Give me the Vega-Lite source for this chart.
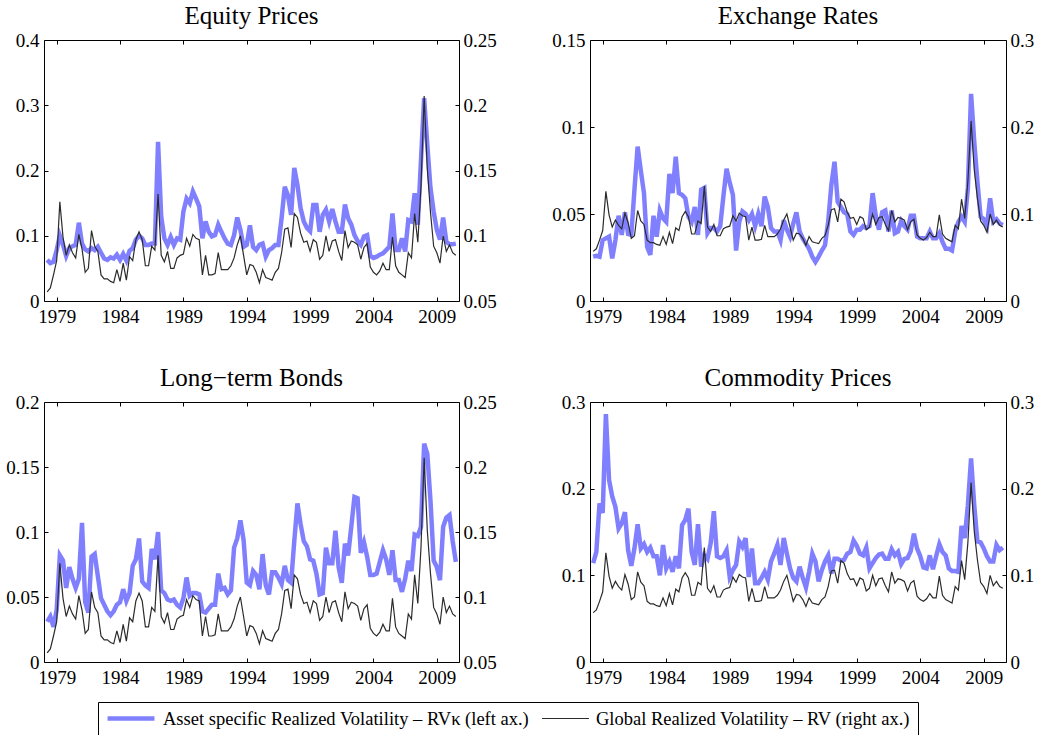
{
  "$schema": "https://vega.github.io/schema/vega-lite/v6.json",
  "padding": {"left": 5, "top": 3, "right": 0, "bottom": 0},
  "background": "white",
  "config": {
    "font": "Liberation Serif",
    "view": {"stroke": "black", "strokeWidth": 1},
    "axis": {"grid": false, "domain": false, "ticks": true, "tickSize": -4, "tickColor": "black", "tickWidth": 1, "labelFont": "Liberation Serif", "labelFontSize": 19, "labelColor": "black", "labelFlush": false, "labelOverlap": false, "title": null},
    "title": {"font": "Liberation Serif", "fontSize": 25, "fontWeight": "normal", "color": "black", "frame": "group", "offset": 2},
    "legend": {"orient": "none", "legendX": 54, "legendY": 662, "direction": "horizontal", "title": null, "labelFont": "Liberation Serif", "labelFontSize": 18.5, "labelColor": "black", "labelLimit": 0, "symbolType": "stroke", "symbolSize": 2200, "clipHeight": 19, "strokeColor": "black", "fillColor": "white", "padding": 7, "columnPadding": 11, "labelOffset": 6}
  },
  "datasets": {
    "rv": [
      {"t":1978.25,"eq":0.063,"fx":0.0255,"bd":0.031,"cm":0.114,"g":0.057},
      {"t":1978.5,"eq":0.058,"fx":0.026,"bd":0.035,"cm":0.127,"g":0.060},
      {"t":1978.75,"eq":0.060,"fx":0.0255,"bd":0.027,"cm":0.183,"g":0.070},
      {"t":1979,"eq":0.078,"fx":0.035,"bd":0.040,"cm":0.172,"g":0.081},
      {"t":1979.25,"eq":0.100,"fx":0.036,"bd":0.082,"cm":0.286,"g":0.126},
      {"t":1979.5,"eq":0.086,"fx":0.037,"bd":0.078,"cm":0.210,"g":0.099},
      {"t":1979.75,"eq":0.069,"fx":0.0245,"bd":0.057,"cm":0.191,"g":0.085},
      {"t":1980,"eq":0.081,"fx":0.035,"bd":0.073,"cm":0.179,"g":0.093},
      {"t":1980.25,"eq":0.084,"fx":0.049,"bd":0.064,"cm":0.154,"g":0.087},
      {"t":1980.5,"eq":0.086,"fx":0.038,"bd":0.057,"cm":0.160,"g":0.083},
      {"t":1980.75,"eq":0.120,"fx":0.051,"bd":0.064,"cm":0.173,"g":0.101},
      {"t":1981,"eq":0.088,"fx":0.0385,"bd":0.107,"cm":0.129,"g":0.090},
      {"t":1981.25,"eq":0.079,"fx":0.038,"bd":0.046,"cm":0.111,"g":0.072},
      {"t":1981.5,"eq":0.076,"fx":0.064,"bd":0.038,"cm":0.131,"g":0.075},
      {"t":1981.75,"eq":0.081,"fx":0.0887,"bd":0.081,"cm":0.159,"g":0.104},
      {"t":1982,"eq":0.078,"fx":0.075,"bd":0.083,"cm":0.131,"g":0.092},
      {"t":1982.25,"eq":0.083,"fx":0.062,"bd":0.066,"cm":0.136,"g":0.088},
      {"t":1982.5,"eq":0.074,"fx":0.031,"bd":0.049,"cm":0.127,"g":0.070},
      {"t":1982.75,"eq":0.065,"fx":0.0265,"bd":0.044,"cm":0.132,"g":0.067},
      {"t":1983,"eq":0.063,"fx":0.049,"bd":0.039,"cm":0.122,"g":0.067},
      {"t":1983.25,"eq":0.067,"fx":0.037,"bd":0.036,"cm":0.122,"g":0.065},
      {"t":1983.5,"eq":0.065,"fx":0.052,"bd":0.039,"cm":0.100,"g":0.064},
      {"t":1983.75,"eq":0.071,"fx":0.0475,"bd":0.044,"cm":0.135,"g":0.074},
      {"t":1984,"eq":0.063,"fx":0.0455,"bd":0.046,"cm":0.108,"g":0.065},
      {"t":1984.25,"eq":0.072,"fx":0.073,"bd":0.056,"cm":0.116,"g":0.079},
      {"t":1984.5,"eq":0.062,"fx":0.062,"bd":0.047,"cm":0.104,"g":0.066},
      {"t":1984.75,"eq":0.077,"fx":0.083,"bd":0.053,"cm":0.122,"g":0.084},
      {"t":1985,"eq":0.081,"fx":0.062,"bd":0.074,"cm":0.108,"g":0.081},
      {"t":1985.25,"eq":0.094,"fx":0.061,"bd":0.079,"cm":0.158,"g":0.097},
      {"t":1985.5,"eq":0.100,"fx":0.059,"bd":0.095,"cm":0.164,"g":0.103},
      {"t":1985.75,"eq":0.096,"fx":0.0485,"bd":0.062,"cm":0.177,"g":0.097},
      {"t":1986,"eq":0.086,"fx":0.0455,"bd":0.059,"cm":0.127,"g":0.077},
      {"t":1986.25,"eq":0.086,"fx":0.054,"bd":0.057,"cm":0.112,"g":0.077},
      {"t":1986.5,"eq":0.088,"fx":0.038,"bd":0.087,"cm":0.159,"g":0.092},
      {"t":1986.75,"eq":0.088,"fx":0.064,"bd":0.079,"cm":0.110,"g":0.089},
      {"t":1987,"eq":0.244,"fx":0.065,"bd":0.100,"cm":0.123,"g":0.132},
      {"t":1987.25,"eq":0.129,"fx":0.039,"bd":0.055,"cm":0.119,"g":0.085},
      {"t":1987.5,"eq":0.096,"fx":0.042,"bd":0.053,"cm":0.137,"g":0.080},
      {"t":1987.75,"eq":0.086,"fx":0.042,"bd":0.048,"cm":0.174,"g":0.088},
      {"t":1988,"eq":0.098,"fx":0.040,"bd":0.047,"cm":0.122,"g":0.075},
      {"t":1988.25,"eq":0.086,"fx":0.043,"bd":0.048,"cm":0.120,"g":0.075},
      {"t":1988.5,"eq":0.096,"fx":0.060,"bd":0.044,"cm":0.122,"g":0.083},
      {"t":1988.75,"eq":0.094,"fx":0.076,"bd":0.042,"cm":0.129,"g":0.085},
      {"t":1989,"eq":0.137,"fx":0.068,"bd":0.049,"cm":0.098,"g":0.086},
      {"t":1989.25,"eq":0.157,"fx":0.061,"bd":0.065,"cm":0.106,"g":0.098},
      {"t":1989.5,"eq":0.150,"fx":0.029,"bd":0.051,"cm":0.112,"g":0.092},
      {"t":1989.75,"eq":0.168,"fx":0.0455,"bd":0.053,"cm":0.139,"g":0.101},
      {"t":1990,"eq":0.157,"fx":0.0515,"bd":0.053,"cm":0.133,"g":0.098},
      {"t":1990.25,"eq":0.145,"fx":0.050,"bd":0.052,"cm":0.143,"g":0.097},
      {"t":1990.5,"eq":0.096,"fx":0.0465,"bd":0.039,"cm":0.098,"g":0.070},
      {"t":1990.75,"eq":0.122,"fx":0.050,"bd":0.038,"cm":0.131,"g":0.085},
      {"t":1991,"eq":0.106,"fx":0.043,"bd":0.041,"cm":0.091,"g":0.070},
      {"t":1991.25,"eq":0.099,"fx":0.050,"bd":0.044,"cm":0.091,"g":0.070},
      {"t":1991.5,"eq":0.101,"fx":0.043,"bd":0.044,"cm":0.097,"g":0.071},
      {"t":1991.75,"eq":0.117,"fx":0.060,"bd":0.068,"cm":0.104,"g":0.087},
      {"t":1992,"eq":0.106,"fx":0.054,"bd":0.056,"cm":0.095,"g":0.074},
      {"t":1992.25,"eq":0.096,"fx":0.042,"bd":0.057,"cm":0.116,"g":0.074},
      {"t":1992.5,"eq":0.088,"fx":0.040,"bd":0.052,"cm":0.125,"g":0.074},
      {"t":1992.75,"eq":0.086,"fx":0.040,"bd":0.055,"cm":0.135,"g":0.077},
      {"t":1993,"eq":0.101,"fx":0.035,"bd":0.088,"cm":0.112,"g":0.083},
      {"t":1993.25,"eq":0.128,"fx":0.0465,"bd":0.095,"cm":0.143,"g":0.093},
      {"t":1993.5,"eq":0.109,"fx":0.041,"bd":0.109,"cm":0.125,"g":0.100},
      {"t":1993.75,"eq":0.083,"fx":0.037,"bd":0.094,"cm":0.108,"g":0.085},
      {"t":1994,"eq":0.086,"fx":0.0445,"bd":0.061,"cm":0.097,"g":0.070},
      {"t":1994.25,"eq":0.116,"fx":0.051,"bd":0.059,"cm":0.093,"g":0.078},
      {"t":1994.5,"eq":0.083,"fx":0.040,"bd":0.070,"cm":0.110,"g":0.077},
      {"t":1994.75,"eq":0.078,"fx":0.036,"bd":0.067,"cm":0.097,"g":0.072},
      {"t":1995,"eq":0.086,"fx":0.033,"bd":0.056,"cm":0.086,"g":0.064},
      {"t":1995.25,"eq":0.088,"fx":0.030,"bd":0.083,"cm":0.104,"g":0.074},
      {"t":1995.5,"eq":0.068,"fx":0.0255,"bd":0.059,"cm":0.125,"g":0.068},
      {"t":1995.75,"eq":0.078,"fx":0.0225,"bd":0.052,"cm":0.116,"g":0.067},
      {"t":1996,"eq":0.081,"fx":0.0255,"bd":0.069,"cm":0.093,"g":0.066},
      {"t":1996.25,"eq":0.086,"fx":0.029,"bd":0.069,"cm":0.106,"g":0.072},
      {"t":1996.5,"eq":0.086,"fx":0.032,"bd":0.065,"cm":0.116,"g":0.075},
      {"t":1996.75,"eq":0.127,"fx":0.0455,"bd":0.060,"cm":0.123,"g":0.087},
      {"t":1997,"eq":0.175,"fx":0.0667,"bd":0.074,"cm":0.102,"g":0.105},
      {"t":1997.25,"eq":0.162,"fx":0.080,"bd":0.063,"cm":0.119,"g":0.106},
      {"t":1997.5,"eq":0.132,"fx":0.057,"bd":0.061,"cm":0.119,"g":0.091},
      {"t":1997.75,"eq":0.204,"fx":0.054,"bd":0.093,"cm":0.117,"g":0.117},
      {"t":1998,"eq":0.178,"fx":0.051,"bd":0.122,"cm":0.118,"g":0.114},
      {"t":1998.25,"eq":0.142,"fx":0.050,"bd":0.106,"cm":0.125,"g":0.102},
      {"t":1998.5,"eq":0.122,"fx":0.040,"bd":0.093,"cm":0.127,"g":0.095},
      {"t":1998.75,"eq":0.112,"fx":0.038,"bd":0.089,"cm":0.140,"g":0.096},
      {"t":1999,"eq":0.107,"fx":0.041,"bd":0.079,"cm":0.134,"g":0.088},
      {"t":1999.25,"eq":0.147,"fx":0.041,"bd":0.078,"cm":0.125,"g":0.097},
      {"t":1999.5,"eq":0.147,"fx":0.043,"bd":0.068,"cm":0.123,"g":0.095},
      {"t":1999.75,"eq":0.106,"fx":0.042,"bd":0.052,"cm":0.132,"g":0.082},
      {"t":2000,"eq":0.132,"fx":0.043,"bd":0.053,"cm":0.108,"g":0.085},
      {"t":2000.25,"eq":0.140,"fx":0.062,"bd":0.088,"cm":0.114,"g":0.100},
      {"t":2000.5,"eq":0.122,"fx":0.049,"bd":0.076,"cm":0.120,"g":0.088},
      {"t":2000.75,"eq":0.141,"fx":0.041,"bd":0.076,"cm":0.124,"g":0.096},
      {"t":2001,"eq":0.122,"fx":0.051,"bd":0.101,"cm":0.125,"g":0.097},
      {"t":2001.25,"eq":0.106,"fx":0.052,"bd":0.073,"cm":0.119,"g":0.088},
      {"t":2001.5,"eq":0.106,"fx":0.040,"bd":0.061,"cm":0.119,"g":0.081},
      {"t":2001.75,"eq":0.148,"fx":0.052,"bd":0.091,"cm":0.130,"g":0.104},
      {"t":2002,"eq":0.127,"fx":0.039,"bd":0.082,"cm":0.123,"g":0.091},
      {"t":2002.25,"eq":0.117,"fx":0.040,"bd":0.104,"cm":0.127,"g":0.096},
      {"t":2002.5,"eq":0.101,"fx":0.046,"bd":0.127,"cm":0.113,"g":0.095},
      {"t":2002.75,"eq":0.092,"fx":0.043,"bd":0.126,"cm":0.119,"g":0.093},
      {"t":2003,"eq":0.086,"fx":0.041,"bd":0.084,"cm":0.120,"g":0.082},
      {"t":2003.25,"eq":0.099,"fx":0.049,"bd":0.092,"cm":0.128,"g":0.091},
      {"t":2003.5,"eq":0.101,"fx":0.049,"bd":0.081,"cm":0.148,"g":0.094},
      {"t":2003.75,"eq":0.069,"fx":0.037,"bd":0.067,"cm":0.131,"g":0.076},
      {"t":2004,"eq":0.066,"fx":0.036,"bd":0.067,"cm":0.122,"g":0.072},
      {"t":2004.25,"eq":0.068,"fx":0.036,"bd":0.068,"cm":0.109,"g":0.070},
      {"t":2004.5,"eq":0.071,"fx":0.036,"bd":0.077,"cm":0.108,"g":0.073},
      {"t":2004.75,"eq":0.073,"fx":0.040,"bd":0.086,"cm":0.123,"g":0.079},
      {"t":2005,"eq":0.078,"fx":0.036,"bd":0.079,"cm":0.107,"g":0.074},
      {"t":2005.25,"eq":0.083,"fx":0.036,"bd":0.067,"cm":0.122,"g":0.074},
      {"t":2005.5,"eq":0.134,"fx":0.039,"bd":0.086,"cm":0.136,"g":0.099},
      {"t":2005.75,"eq":0.078,"fx":0.034,"bd":0.063,"cm":0.127,"g":0.077},
      {"t":2006,"eq":0.078,"fx":0.030,"bd":0.063,"cm":0.123,"g":0.072},
      {"t":2006.25,"eq":0.096,"fx":0.030,"bd":0.054,"cm":0.108,"g":0.070},
      {"t":2006.5,"eq":0.076,"fx":0.029,"bd":0.064,"cm":0.105,"g":0.068},
      {"t":2006.75,"eq":0.124,"fx":0.040,"bd":0.078,"cm":0.105,"g":0.087},
      {"t":2007,"eq":0.122,"fx":0.0455,"bd":0.070,"cm":0.104,"g":0.083},
      {"t":2007.25,"eq":0.165,"fx":0.0485,"bd":0.098,"cm":0.157,"g":0.117},
      {"t":2007.5,"eq":0.117,"fx":0.0455,"bd":0.097,"cm":0.143,"g":0.095},
      {"t":2007.75,"eq":0.216,"fx":0.065,"bd":0.104,"cm":0.181,"g":0.138},
      {"t":2008,"eq":0.311,"fx":0.119,"bd":0.168,"cm":0.235,"g":0.207},
      {"t":2008.25,"eq":0.239,"fx":0.0916,"bd":0.160,"cm":0.181,"g":0.151},
      {"t":2008.5,"eq":0.173,"fx":0.0686,"bd":0.124,"cm":0.139,"g":0.118},
      {"t":2008.75,"eq":0.137,"fx":0.0485,"bd":0.078,"cm":0.138,"g":0.092},
      {"t":2009,"eq":0.109,"fx":0.047,"bd":0.073,"cm":0.131,"g":0.087},
      {"t":2009.25,"eq":0.094,"fx":0.043,"bd":0.063,"cm":0.122,"g":0.079},
      {"t":2009.5,"eq":0.128,"fx":0.059,"bd":0.104,"cm":0.116,"g":0.100},
      {"t":2009.75,"eq":0.091,"fx":0.0455,"bd":0.111,"cm":0.116,"g":0.088},
      {"t":2010,"eq":0.087,"fx":0.047,"bd":0.113,"cm":0.135,"g":0.093},
      {"t":2010.25,"eq":0.087,"fx":0.0446,"bd":0.093,"cm":0.129,"g":0.087},
      {"t":2010.5,"eq":0.088,"fx":0.0437,"bd":0.077,"cm":0.132,"g":0.085}
    ]
  },
  "columns": 2,
  "bounds": "flush",
  "spacing": {"row": 101, "column": 131},
  "resolve": {"scale": {"color": "shared", "strokeWidth": "shared"}, "legend": {"color": "shared", "strokeWidth": "shared"}},
  "concat": [
    {
      "title": "Equity Prices",
      "width": 415, "height": 261,
      "data": {"name": "rv"},
      "resolve": {"scale": {"y": "independent"}, "axis": {"x": "independent", "y": "independent"}},
      "layer": [
        {"mark": {"type": "line"},
         "encoding": {
           "x": {"field": "t", "type": "quantitative", "scale": {"domain": [1978, 2010.75], "nice": false, "zero": false}, "axis": {"orient": "bottom", "values": [1979, 1984, 1989, 1994, 1999, 2004, 2009], "format": "d", "labelPadding": 10}},
           "y": {"field": "eq", "type": "quantitative", "scale": {"domain": [0, 0.4], "nice": false, "zero": false}, "axis": {"orient": "left", "values": [0, 0.1, 0.2, 0.3, 0.4], "format": ".3~g", "labelPadding": 9}},
           "color": {"datum": "A", "type": "nominal", "scale": {"type": "ordinal", "domain": ["A", "G"], "range": ["#8080ff", "#2b2b2b"]}, "legend": {"labelExpr": "datum.value == 'A' ? 'Asset specific Realized Volatility – RVκ (left ax.)' : 'Global Realized Volatility – RV (right ax.)'"}},
           "strokeWidth": {"datum": "A", "type": "nominal", "scale": {"type": "ordinal", "domain": ["A", "G"], "range": [4.5, 1.2]}, "legend": {"labelExpr": "datum.value == 'A' ? 'Asset specific Realized Volatility – RVκ (left ax.)' : 'Global Realized Volatility – RV (right ax.)'"}}
         }},
        {"mark": {"type": "line"},
         "encoding": {
           "x": {"field": "t", "type": "quantitative", "axis": {"orient": "top", "values": [1979, 1984, 1989, 1994, 1999, 2004, 2009], "labels": false}},
           "y": {"field": "g", "type": "quantitative", "scale": {"domain": [0.05, 0.25], "nice": false, "zero": false}, "axis": {"orient": "right", "values": [0.05, 0.1, 0.15, 0.2, 0.25], "format": ".3~g", "labelPadding": 8}},
           "color": {"datum": "G", "type": "nominal", "scale": {"type": "ordinal", "domain": ["A", "G"], "range": ["#8080ff", "#2b2b2b"]}},
           "strokeWidth": {"datum": "G", "type": "nominal", "scale": {"type": "ordinal", "domain": ["A", "G"], "range": [4.5, 1.2]}}
         }}
      ]
    },
    {
      "title": "Exchange Rates",
      "width": 416, "height": 261,
      "data": {"name": "rv"},
      "resolve": {"scale": {"y": "independent"}, "axis": {"x": "independent", "y": "independent"}},
      "layer": [
        {"mark": {"type": "line"},
         "encoding": {
           "x": {"field": "t", "type": "quantitative", "scale": {"domain": [1978, 2010.75], "nice": false, "zero": false}, "axis": {"orient": "bottom", "values": [1979, 1984, 1989, 1994, 1999, 2004, 2009], "format": "d", "labelPadding": 10}},
           "y": {"field": "fx", "type": "quantitative", "scale": {"domain": [0, 0.15], "nice": false, "zero": false}, "axis": {"orient": "left", "values": [0, 0.05, 0.1, 0.15], "format": ".3~g", "labelPadding": 9}},
           "color": {"datum": "A", "type": "nominal", "scale": {"type": "ordinal", "domain": ["A", "G"], "range": ["#8080ff", "#2b2b2b"]}},
           "strokeWidth": {"datum": "A", "type": "nominal", "scale": {"type": "ordinal", "domain": ["A", "G"], "range": [4.5, 1.2]}}
         }},
        {"mark": {"type": "line"},
         "encoding": {
           "x": {"field": "t", "type": "quantitative", "axis": {"orient": "top", "values": [1979, 1984, 1989, 1994, 1999, 2004, 2009], "labels": false}},
           "y": {"field": "g", "type": "quantitative", "scale": {"domain": [0, 0.3], "nice": false, "zero": false}, "axis": {"orient": "right", "values": [0, 0.1, 0.2, 0.3], "format": ".3~g", "labelPadding": 8}},
           "color": {"datum": "G", "type": "nominal", "scale": {"type": "ordinal", "domain": ["A", "G"], "range": ["#8080ff", "#2b2b2b"]}},
           "strokeWidth": {"datum": "G", "type": "nominal", "scale": {"type": "ordinal", "domain": ["A", "G"], "range": [4.5, 1.2]}}
         }}
      ]
    },
    {
      "title": "Long−term Bonds",
      "width": 415, "height": 260,
      "data": {"name": "rv"},
      "resolve": {"scale": {"y": "independent"}, "axis": {"x": "independent", "y": "independent"}},
      "layer": [
        {"mark": {"type": "line"},
         "encoding": {
           "x": {"field": "t", "type": "quantitative", "scale": {"domain": [1978, 2010.75], "nice": false, "zero": false}, "axis": {"orient": "bottom", "values": [1979, 1984, 1989, 1994, 1999, 2004, 2009], "format": "d", "labelPadding": 10}},
           "y": {"field": "bd", "type": "quantitative", "scale": {"domain": [0, 0.2], "nice": false, "zero": false}, "axis": {"orient": "left", "values": [0, 0.05, 0.1, 0.15, 0.2], "format": ".3~g", "labelPadding": 9}},
           "color": {"datum": "A", "type": "nominal", "scale": {"type": "ordinal", "domain": ["A", "G"], "range": ["#8080ff", "#2b2b2b"]}},
           "strokeWidth": {"datum": "A", "type": "nominal", "scale": {"type": "ordinal", "domain": ["A", "G"], "range": [4.5, 1.2]}}
         }},
        {"mark": {"type": "line"},
         "encoding": {
           "x": {"field": "t", "type": "quantitative", "axis": {"orient": "top", "values": [1979, 1984, 1989, 1994, 1999, 2004, 2009], "labels": false}},
           "y": {"field": "g", "type": "quantitative", "scale": {"domain": [0.05, 0.25], "nice": false, "zero": false}, "axis": {"orient": "right", "values": [0.05, 0.1, 0.15, 0.2, 0.25], "format": ".3~g", "labelPadding": 8}},
           "color": {"datum": "G", "type": "nominal", "scale": {"type": "ordinal", "domain": ["A", "G"], "range": ["#8080ff", "#2b2b2b"]}},
           "strokeWidth": {"datum": "G", "type": "nominal", "scale": {"type": "ordinal", "domain": ["A", "G"], "range": [4.5, 1.2]}}
         }}
      ]
    },
    {
      "title": "Commodity Prices",
      "width": 416, "height": 260,
      "data": {"name": "rv"},
      "resolve": {"scale": {"y": "independent"}, "axis": {"x": "independent", "y": "independent"}},
      "layer": [
        {"mark": {"type": "line"},
         "encoding": {
           "x": {"field": "t", "type": "quantitative", "scale": {"domain": [1978, 2010.75], "nice": false, "zero": false}, "axis": {"orient": "bottom", "values": [1979, 1984, 1989, 1994, 1999, 2004, 2009], "format": "d", "labelPadding": 10}},
           "y": {"field": "cm", "type": "quantitative", "scale": {"domain": [0, 0.3], "nice": false, "zero": false}, "axis": {"orient": "left", "values": [0, 0.1, 0.2, 0.3], "format": ".3~g", "labelPadding": 9}},
           "color": {"datum": "A", "type": "nominal", "scale": {"type": "ordinal", "domain": ["A", "G"], "range": ["#8080ff", "#2b2b2b"]}},
           "strokeWidth": {"datum": "A", "type": "nominal", "scale": {"type": "ordinal", "domain": ["A", "G"], "range": [4.5, 1.2]}}
         }},
        {"mark": {"type": "line"},
         "encoding": {
           "x": {"field": "t", "type": "quantitative", "axis": {"orient": "top", "values": [1979, 1984, 1989, 1994, 1999, 2004, 2009], "labels": false}},
           "y": {"field": "g", "type": "quantitative", "scale": {"domain": [0, 0.3], "nice": false, "zero": false}, "axis": {"orient": "right", "values": [0, 0.1, 0.2, 0.3], "format": ".3~g", "labelPadding": 8}},
           "color": {"datum": "G", "type": "nominal", "scale": {"type": "ordinal", "domain": ["A", "G"], "range": ["#8080ff", "#2b2b2b"]}},
           "strokeWidth": {"datum": "G", "type": "nominal", "scale": {"type": "ordinal", "domain": ["A", "G"], "range": [4.5, 1.2]}}
         }}
      ]
    }
  ]
}
